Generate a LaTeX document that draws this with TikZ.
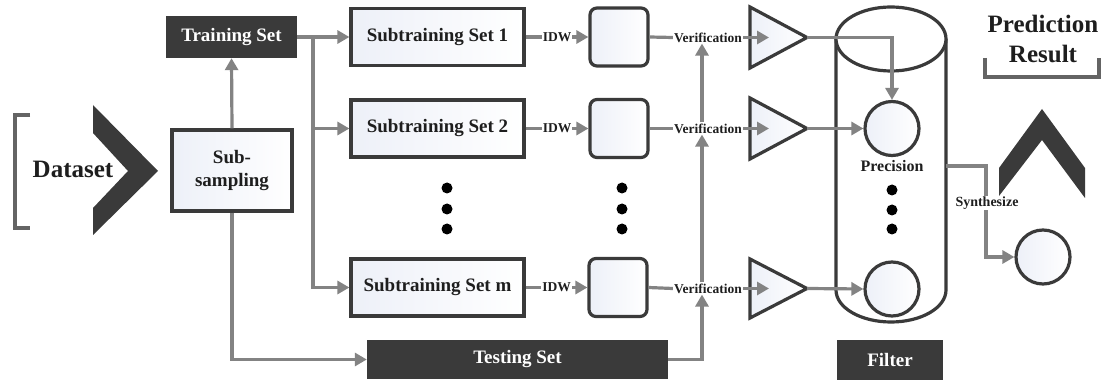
\documentclass[tikz,border=0pt]{standalone}
\usepackage{fontspec}
\setmainfont{Liberation Serif}[BoldFont={Liberation Serif Bold}]
\usetikzlibrary{arrows.meta,calc}
\definecolor{dk}{HTML}{3A3A3A}
\definecolor{gy}{HTML}{838383}
\definecolor{bk}{HTML}{646464}
\definecolor{lb}{HTML}{EDF0F8}
\definecolor{tx}{HTML}{1E1E1E}
\begin{document}
\begin{tikzpicture}[x=1pt,y=-1pt,
  every node/.style={text=tx},
  fmid/.style={font=\fontsize{19pt}{23pt}\selectfont\bfseries},
  fbig/.style={font=\fontsize{25pt}{30pt}\selectfont\bfseries},
  fsm/.style={font=\fontsize{13.5pt}{15pt}\selectfont\bfseries},
  lbox/.style={draw=dk, line width=3.2pt, left color=lb, right color=white, inner sep=0pt, fmid},
  rbox/.style={lbox, rounded corners=7pt, minimum width=58pt, minimum height=58pt},
  dbox/.style={fill=dk, text=white, inner sep=0pt, fmid},
  conn/.style={draw=gy, line width=3.2pt, -{Triangle[length=12pt,width=13pt]}},
  plain/.style={draw=gy, line width=3.2pt},
  lbl/.style={fill=white, inner sep=1pt, fsm},
  tri/.style={draw=dk, line width=3.2pt, left color=lb, right color=white, line join=miter},
  circ/.style={circle, draw=dk, line width=3.2pt, left color=lb, right color=white, minimum size=54pt, inner sep=0pt},
  dot/.style={circle, fill=black, minimum size=11pt, inner sep=0pt},
  brk/.style={draw=bk, line width=3.2pt}]
\fill[white] (0,0) rectangle (1104,382);
\useasboundingbox (0,0) rectangle (1104,382);

% Dataset
\draw[brk] (30,115) -- (15,115) -- (15,228) -- (30,228);
\node[fbig] (ds) at (73,169) {Dataset};
\fill[dk] (93,105) -- (158,171) -- (93,235) -- (93,208) -- (128,171) -- (93,133) -- cycle;

% boxes
\node[lbox, minimum width=120pt, minimum height=81pt, align=center] (sub) at (232,170.5) {Sub-\\sampling};
\node[dbox, minimum width=131pt, minimum height=42pt] (train) at (231.5,37) {Training Set};
\node[lbox, minimum width=173pt, minimum height=57pt] (st1) at (437.5,37) {Subtraining Set 1};
\node[lbox, minimum width=173pt, minimum height=57pt] (st2) at (437.5,128.5) {Subtraining Set 2};
\node[lbox, minimum width=173pt, minimum height=57pt] (stm) at (437.5,287.5) {Subtraining Set m};
\node[rbox] (rb1) at (619,37) {};
\node[rbox] (rb2) at (619,128.5) {};
\node[rbox] (rbm) at (618,287.5) {};
\node[dbox, minimum width=301pt, minimum height=39pt] (test) at (517.5,359.5) {Testing Set};

% dots
\foreach \y [count=\i] in {188,209,229} {
  \node[dot] (da\i) at (447,\y) {};
  \node[dot] (db\i) at (622,\y) {};
}

% training connectors
\coordinate (j1) at (313,37);
\draw[conn] (train.east) -- (st1.west);
\draw[conn] (j1) |- (stm.west);
\draw[conn] (j1 |- st2.west) -- (st2.west);
\draw[conn] (sub.north) -- (train.south);
\draw[conn] (sub.south) |- (test.west);

% IDW
\draw[conn] (st1.east) -- node[lbl] (idw1) {IDW} (rb1.west);
\draw[conn] (st2.east) -- node[lbl] (idw2) {IDW} (rb2.west);
\draw[conn] (stm.east) -- node[lbl] (idwm) {IDW} (rbm.west);

% triangles
\draw[tri] (750,7) -- (750,68) -- (807,37.5) -- cycle;
\draw[tri] (750,98) -- (750,159) -- (807,128.5) -- cycle;
\draw[tri] (750,259) -- (750,318) -- (807,288.5) -- cycle;
\coordinate (t1) at (807,37.5);
\coordinate (t2) at (807,128.5);
\coordinate (tm) at (807,288.5);
\coordinate (t1in) at (769,37.5);
\coordinate (t2in) at (769,128.5);
\coordinate (tmin) at (769,288.5);

% verification
\node[lbl] (ver1) at (708,37.5) {Verification};
\node[lbl] (ver2) at (708,128.5) {Verification};
\node[lbl] (verm) at (708,288.5) {Verification};
\draw[plain] (rb1.east) -- (ver1.west);
\draw[plain] (rb2.east) -- (ver2.west);
\draw[plain] (rbm.east) -- (verm.west);
\draw[conn] (ver1.east) -- (t1in);
\draw[conn] (ver2.east) -- (t2in);
\draw[conn] (verm.east) -- (tmin);
\coordinate (vx) at (702,0);
\draw[conn] (test.east) -| (verm.south -| vx);
\draw[conn] (verm.north -| vx) -- (ver2.south -| vx);
\draw[conn] (ver2.north -| vx) -- (ver1.south -| vx);

% cylinder
\fill[white] (836,39) -- (836,290) arc[start angle=180,end angle=360,x radius=55pt,y radius=32pt] -- (946,39) -- cycle;
\draw[draw=dk, line width=3.2pt] (946,39) -- (946,290) arc[start angle=0,end angle=-180,x radius=55pt,y radius=32pt] -- (836,39);
\draw[draw=dk, line width=3.2pt, fill=white] (891,39) ellipse[x radius=55pt, y radius=32pt];
\node[circ] (c1) at (892,128.5) {};
\node[circ] (cm) at (892,289) {};
\node[font=\fontsize{16pt}{18pt}\selectfont\bfseries, inner sep=1pt] (prec) at (892,166) {Precision};
\foreach \y [count=\i] in {190,210,229} {
  \node[dot] (dc\i) at (892,\y) {};
}
\draw[conn] (t1) -| (c1.north);
\draw[conn] (t2) -- (c1.west);
\draw[conn] (tm) -- (cm.west);
\node[dbox, minimum width=106pt, minimum height=40pt] (filt) at (890,360) {Filter};

% synthesize
\coordinate (cylr) at (946,166);
\node[circ] (res) at (1043,257) {};
\draw[conn] (cylr) -- (986,166) -- (986,257) -- (res.west);
\node[fill=white, inner sep=1pt, font=\fontsize{14pt}{16pt}\selectfont\bfseries] (syn) at (987,203) {Synthesize};
\fill[dk] (1042,109) -- (1085,168) -- (1085,198) -- (1042,140) -- (999,196) -- (999,168) -- cycle;

% prediction result
\node[fbig, align=center] (pred) at (1043,39) {Prediction\\Result};
\draw[brk] (985,58) -- (985,77) -- (1099,77) -- (1099,58);
\end{tikzpicture}
\end{document}
